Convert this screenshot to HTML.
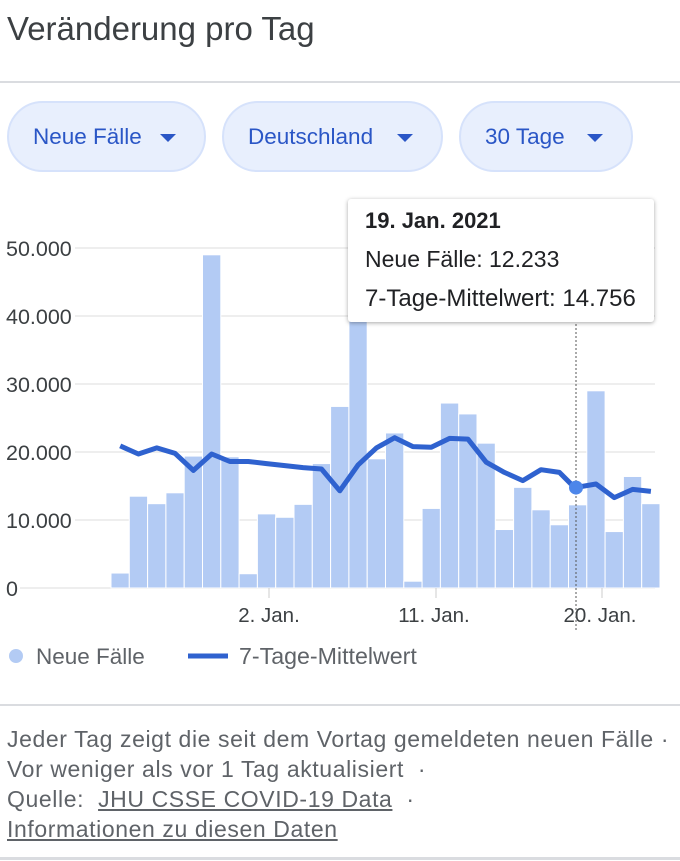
<!DOCTYPE html>
<html><head><meta charset="utf-8"><style>
*{margin:0;padding:0;box-sizing:border-box}
body{width:680px;height:861px;background:#fff;font-family:"Liberation Sans",sans-serif;position:relative;overflow:hidden;color:#3c4043}
.t{position:absolute;white-space:nowrap}
.btn{position:absolute;top:101px;height:71px;border-radius:36px;background:#e8effd;border:2px solid #d6e2fb;color:#2a56c6;font-size:22.5px;line-height:67px;padding-left:24px}
.btn:after{content:"";position:absolute;right:28px;top:31px;border-left:8px solid transparent;border-right:8px solid transparent;border-top:8px solid #2a56c6}
</style></head><body>
<div class="t" style="left:7px;top:10px;font-size:33px;color:#3c4043">Veränderung pro Tag</div>
<div style="position:absolute;left:0;top:81px;width:680px;height:2px;background:#dadce0"></div>
<div class="btn" style="left:7px;width:199px">Neue Fälle</div>
<div class="btn" style="left:222px;width:221px">Deutschland</div>
<div class="btn" style="left:459px;width:174px">30 Tage</div>

<svg width="680" height="861" style="position:absolute;left:0;top:0" font-family="Liberation Sans">
<g stroke="#eeeeee" stroke-width="2">
<line x1="75" x2="655" y1="248" y2="248"/><line x1="75" x2="655" y1="316" y2="316"/><line x1="75" x2="655" y1="384" y2="384"/><line x1="75" x2="655" y1="452" y2="452"/><line x1="75" x2="655" y1="520" y2="520"/><line x1="20" x2="655" y1="588" y2="588"/>
</g>
<g fill="#3c4043" font-size="21.5">
<text x="6" y="256">50.000</text><text x="6" y="324">40.000</text><text x="6" y="392">30.000</text><text x="6" y="460">20.000</text><text x="6" y="528">10.000</text><text x="6" y="596">0</text>
</g>
<g id="bars" fill="#b3cbf4" stroke="#fff" stroke-width="1"></g>
<g stroke="#ccc" stroke-width="1"><line x1="269" x2="269" y1="588" y2="598"/><line x1="436" x2="436" y1="588" y2="598"/><line x1="602" x2="602" y1="588" y2="598"/></g>
<g fill="#3c4043" font-size="20.5" text-anchor="middle"><text x="269" y="622">2. Jan.</text><text x="434" y="622">11. Jan.</text><text x="600" y="622">20. Jan.</text></g>
<line x1="576" x2="576" y1="320" y2="632" stroke="#555" stroke-width="1" stroke-dasharray="2,2"/>
<polyline id="ln" fill="none" stroke="#2f62cf" stroke-width="5" stroke-linejoin="round"/>
<circle cx="576" cy="487.6" r="7" fill="#4d86ea"/>
<circle cx="16" cy="656" r="7" fill="#b3cbf4"/>
<text x="36" y="664" font-size="22.5" fill="#5f6368">Neue Fälle</text>
<line x1="188" x2="228" y1="656" y2="656" stroke="#2f62cf" stroke-width="5"/>
<text x="239" y="664" font-size="23.2" fill="#5f6368">7-Tage-Mittelwert</text>
</svg>

<div style="position:absolute;left:348px;top:199px;width:306px;height:123px;background:#fff;border-radius:3px;box-shadow:0 1px 4px rgba(0,0,0,.35);color:#202124">
<div class="t" style="left:17px;top:9px;font-size:22px;font-weight:bold">19. Jan. 2021</div>
<div class="t" style="left:17px;top:47px;font-size:23px">Neue Fälle: 12.233</div>
<div class="t" style="left:17px;top:86px;font-size:24px">7-Tage-Mittelwert: 14.756</div>
</div>

<div style="position:absolute;left:0;top:704px;width:680px;height:2px;background:#dadce0"></div>
<div class="t" style="left:7px;top:724px;font-size:23px;letter-spacing:0.6px;color:#5f6368;line-height:30px">Jeder Tag zeigt die seit dem Vortag gemeldeten neuen Fälle ·<br>Vor weniger als vor 1 Tag aktualisiert &nbsp;·<br>Quelle: &nbsp;<u>JHU CSSE COVID-19 Data</u> &nbsp;·<br><u>Informationen zu diesen Daten</u></div>
<div style="position:absolute;left:0;top:857px;width:680px;height:3px;background:#dadce0"></div>

<script>
var b=[2200,13500,12400,14000,19400,49000,19300,2100,10900,10400,12300,18300,26700,45000,19000,22800,1000,11700,27200,25600,21300,8600,14800,11500,9300,12233,29000,8300,16400,12400];
var l=[20900,19700,20600,19800,17300,19700,18600,18600,18300,18000,17700,17500,14300,18100,20600,22100,20800,20700,22000,21900,18500,17000,15800,17400,17000,14756,15300,13300,14500,14200];
var x0=111,w=18.3,g=document.getElementById('bars'),pts=[];
for(var i=0;i<30;i++){var h=b[i]*0.0068,r=document.createElementNS('http://www.w3.org/2000/svg','rect');
r.setAttribute('x',x0+i*w);r.setAttribute('y',588-h);r.setAttribute('width',w);r.setAttribute('height',h);g.appendChild(r);
pts.push((x0+(i+0.5)*w-(i==25?3:0)).toFixed(1)+','+(588-l[i]*0.0068).toFixed(1));}
document.getElementById('ln').setAttribute('points',pts.join(' '));
</script>
</body></html>
